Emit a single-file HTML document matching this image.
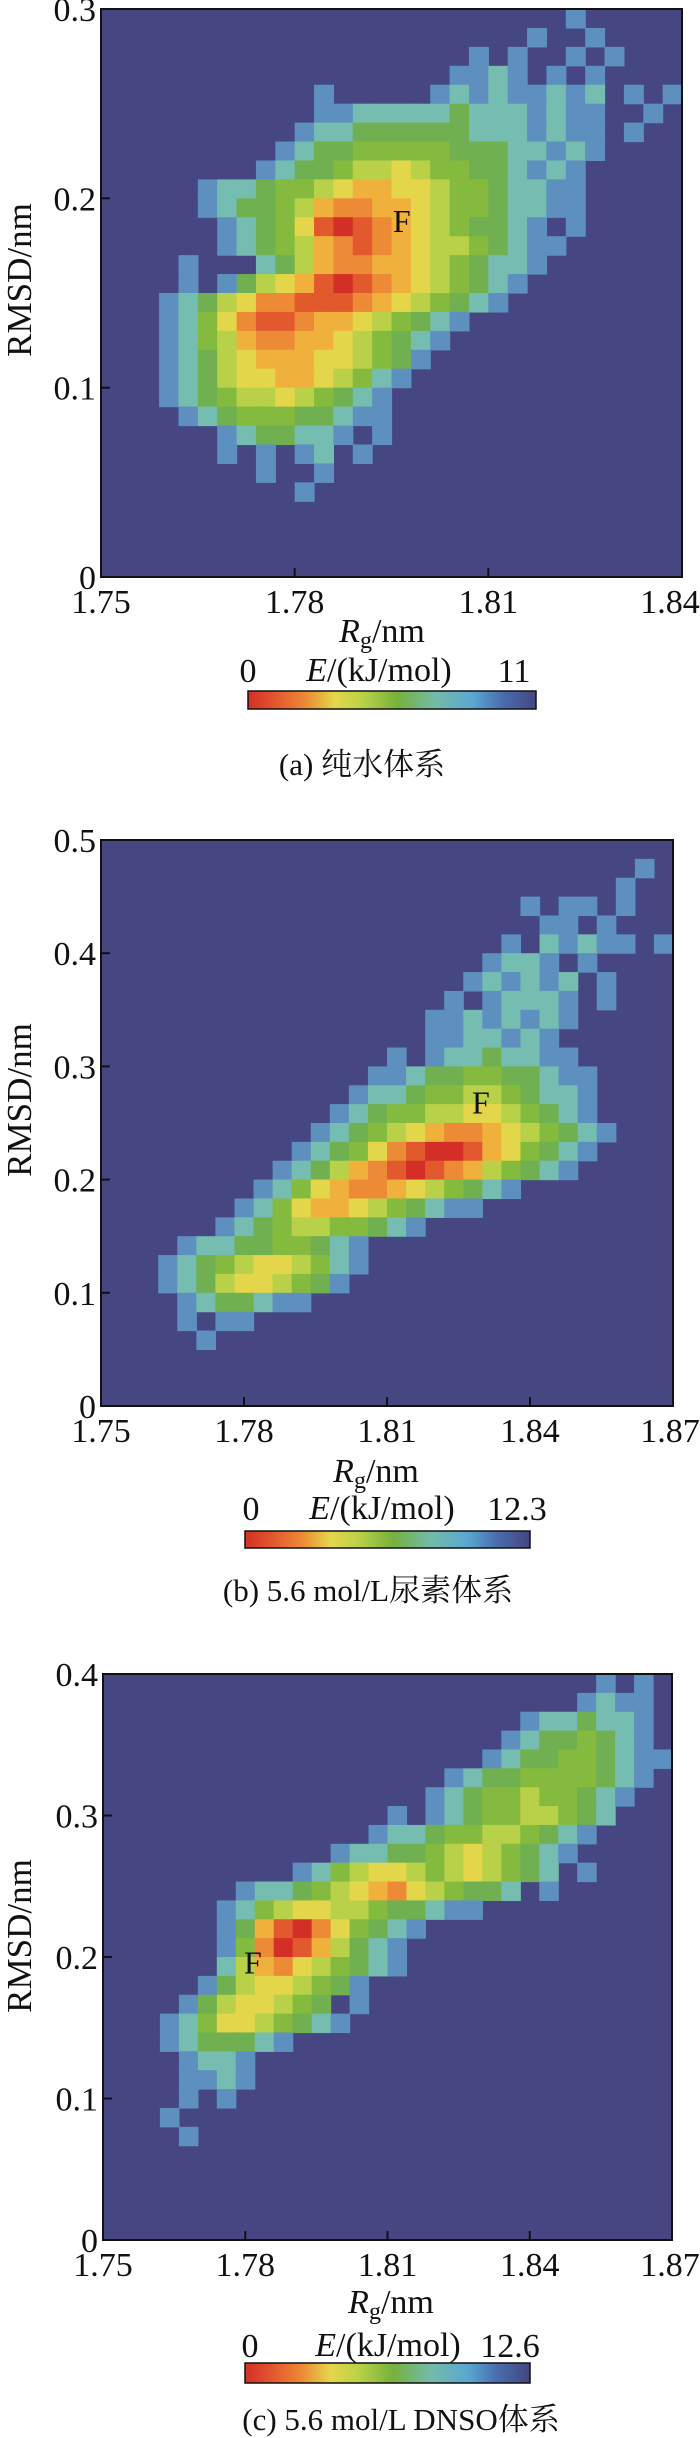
<!DOCTYPE html>
<html><head><meta charset="utf-8"><style>
html,body{margin:0;padding:0;background:#fff;}
svg{display:block;font-family:"Liberation Serif","Noto Serif CJK SC",serif;}
</style></head><body>
<svg id="fig" width="700" height="2438" viewBox="0 0 700 2438" xmlns="http://www.w3.org/2000/svg">
<defs>
<linearGradient id="cbar" x1="0" x2="1" y1="0" y2="0">
<stop offset="0" stop-color="#d42f27"/><stop offset="0.1" stop-color="#e3592e"/><stop offset="0.2" stop-color="#ec8a36"/>
<stop offset="0.3" stop-color="#e4d64a"/><stop offset="0.4" stop-color="#b9d148"/><stop offset="0.52" stop-color="#76b13d"/>
<stop offset="0.65" stop-color="#73bba8"/><stop offset="0.78" stop-color="#5aa8d2"/><stop offset="0.88" stop-color="#4a6fb0"/><stop offset="1" stop-color="#444580"/>
</linearGradient>
</defs>
</svg>
<script>
// ---- Panel (a) data ----
const aXTicks = [1.75, 1.78, 1.81, 1.84];
const aXTickLabels = ["1.75", "1.78", "1.81", "1.84"];
const aYTicks = [0, 0.1, 0.2, 0.3];
const aYTickLabels = ["0", "0.1", "0.2", "0.3"];
const aEnergyMax = ["11"];
const aGrid = [
"........................9.....",
"......................9..9....",
"...................9.9..9.9...",
"..................9989.9.9....",
"...........9.....989899898.9.9",
"...........998888878889899..9.",
"..........9887777778889899.9..",
".........98776666677788989....",
"........98776554566778989.....",
".....98876654334456678899.....",
".....98776532233456678899.....",
"......98764101234567789.9.....",
"......987653212345567899......",
"....9...875322334567889.......",
"....9.9754310123456789........",
"...987542211123456789.........",
"...9864211233456789...........",
"...986532233456789............",
"...98754333445679.............",
"...9875443345689..............",
"...987655456789...............",
"....98766677899...............",
"......9877889.9...............",
"......9.9.98.9................",
"........9..9..................",
"..........9...................",
"..............................",
"..............................",
"..............................",
".............................."
];
// ---- Panel (b) data ----
const bXTicks = [1.75, 1.78, 1.81, 1.84, 1.87];
const bXTickLabels = ["1.75", "1.78", "1.81", "1.84", "1.87"];
const bYTicks = [0, 0.1, 0.2, 0.3, 0.4, 0.5];
const bYTickLabels = ["0", "0.1", "0.2", "0.3", "0.4", "0.5"];
const bEnergyMax = ["12.3"];
const bGrid = [
"..............................",
"............................9.",
"...........................9..",
"......................9.99.9..",
".......................99.9...",
".....................9.89899.9",
"....................9889.9....",
"...................989898.9...",
"..................9.98889.9...",
".................99898989.....",
".................9988989......",
"...............9.98878899.....",
"..............998776677899....",
".............9887665567889....",
"............98766554456789....",
"...........9876543223456789...",
"..........9876421001346789....",
".........9875321012356789.....",
"........98643223456789........",
".......9864334567899..........",
"......98765566789.............",
"....9887766789................",
"...98765445689................",
"...9875445679.................",
"....9877899...................",
"....9.99......................",
".....9........................",
"..............................",
"..............................",
".............................."
];
// ---- Panel (c) data ----
const cXTicks = [1.75, 1.78, 1.81, 1.84, 1.87];
const cXTickLabels = ["1.75", "1.78", "1.81", "1.84", "1.87"];
const cYTicks = [0, 0.1, 0.2, 0.3, 0.4];
const cYTickLabels = ["0", "0.1", "0.2", "0.3", "0.4"];
const cEnergyMax = ["12.6"];
const cGrid = [
"..........................9.9.",
".........................9899.",
"......................9887889.",
".....................98776789.",
"....................9877667899",
"..................98776666789.",
".................98766566789..",
"...............9.9876655678...",
"..............988766556789....",
"............9887765456789.....",
"..........98654456545678.9....",
".......988765432456778.9......",
"......98654455677899..........",
"......97310246789.............",
"......9620135789..............",
"......8532456789..............",
".....975445679................",
"....97544567.9................",
"...9864456789.................",
"...9877789....................",
"....9889......................",
"....9989......................",
"....9.9.......................",
"...9..........................",
"....9.........................",
"..............................",
"..............................",
"..............................",
"..............................",
".............................."
];
// energy-level colours (0 = lowest energy)
const levelColors = ["#d42f27","#e3592e","#ec8a36","#f0b13c","#e4d64a","#b9d148","#84bb3f","#70b050","#74bdb0","#5d8fbf"];

const NS = "http://www.w3.org/2000/svg";
const svg = document.getElementById("fig");
function mk(tag, attrs, parent){
  const e = document.createElementNS(NS, tag);
  for (const k in attrs) e.setAttribute(k, attrs[k]);
  (parent||svg).appendChild(e); return e;
}
function drawPanel(p){
  const g = mk("g", {});
  
  
  const xs = v => p.L + (v - p.xmin) / (p.xmax - p.xmin) * (p.R - p.L);
  const ys = v => p.B - (v - p.ymin) / (p.ymax - p.ymin) * (p.B - p.T);
  const bg = mk("rect", {x:p.L, y:p.T, width:p.R-p.L, height:p.B-p.T, fill:"#454682"}, g);
  
  
  const rows = p.grid.length, cols = 30;
  const dx = (p.xmax - p.xmin) / cols, dy = (p.ymax - p.ymin) / rows;
  for (let r = 0; r < rows; r++) {
    const row = p.grid[r];
    for (let c = 0; c < cols; c++) {
      const ch = row[c];
      if (!ch || ch < '0' || ch > '9') continue;
      const x0 = xs(p.xmin + c*dx), x1 = xs(p.xmin + (c+1)*dx);
      const y0 = ys(p.ymax - r*dy), y1 = ys(p.ymax - (r+1)*dy);
      const cell = mk("rect", {x:x0, y:y0, width:x1-x0+0.6, height:y1-y0+0.6, fill:levelColors[+ch]}, g);
      
      
    }
  }
  const fr = mk("rect", {x:p.L, y:p.T, width:p.R-p.L, height:p.B-p.T, fill:"none", stroke:"#111", "stroke-width":2}, g);
  
  
  p.xTicks.forEach((v,i) => {
    const x = xs(v);
    if (i > 0 && i < p.xTicks.length-1) {
      const t = mk("line", {x1:x, x2:x, y1:p.B, y2:p.B-9, stroke:"#111", "stroke-width":2}, g);
      
      
    }
    const lx = Math.min(x, 670);
    const lab = mk("text", {x:lx, y:p.B+36, "font-size":34, "text-anchor":"middle", fill:"#111"}, g);
    lab.textContent = p.xTickLabels[i];
    
    
  });
  p.yTicks.forEach((v,i) => {
    const y = ys(v);
    if (i > 0 && i < p.yTicks.length-1) {
      const t = mk("line", {x1:p.L, x2:p.L+9, y1:y, y2:y, stroke:"#111", "stroke-width":2}, g);
      
      
    }
    const lab = mk("text", {x:p.L-5, y:y+12, "font-size":34, "text-anchor":"end", fill:"#111"}, g);
    lab.textContent = p.yTickLabels[i];
    
    
  });
  const yl = mk("text", {x:0, y:0, "font-size":35, "text-anchor":"middle", fill:"#111", transform:`translate(31,${p.yLabelY}) rotate(-90)`}, g);
  yl.textContent = "RMSD/nm";
  
  
  const xl = mk("text", {x:p.xLabelX, y:p.xLabelY+11, "font-size":34, "text-anchor":"middle", fill:"#111"}, g);
  xl.innerHTML = '<tspan font-style="italic">R</tspan><tspan font-size="24" dy="6">g</tspan><tspan dy="-6">/nm</tspan>';
  
  
  const fl = mk("text", {x:xs(p.fx), y:ys(p.fy)+11, "font-size":32, "text-anchor":"middle", fill:"#111"}, g);
  fl.textContent = "F";
  
  
  const cb = mk("rect", {x:p.cbL, y:p.cbT, width:p.cbR-p.cbL, height:p.cbB-p.cbT, fill:"url(#cbar)", stroke:"#111", "stroke-width":1.5}, g);
  
  
  const c0 = mk("text", {x:p.cb0X, y:p.cbLabY+12, "font-size":34, "text-anchor":"middle", fill:"#111"}, g);
  c0.textContent = "0";
  
  
  const c1 = mk("text", {x:p.cb1X, y:p.cbLabY+12, "font-size":34, "text-anchor":"middle", fill:"#111"}, g);
  c1.textContent = p.emax[0];
  
  
  const ct = mk("text", {x:p.cbTitleX, y:p.cbLabY+11, "font-size":34, "text-anchor":"middle", fill:"#111"}, g);
  ct.innerHTML = '<tspan font-style="italic">E</tspan>/(kJ/mol)';
  
  
  const cap = mk("text", {x:p.capX, y:p.capY+11, "font-size":31, "text-anchor":"middle", fill:"#111"}, g);
  cap.textContent = p.caption;
  
  
}
drawPanel({name:"panel-a-pure-water", L:101, R:682, T:9, B:577, xmin:1.75, xmax:1.84, ymin:0, ymax:0.3,
  xTicks:aXTicks, xTickLabels:aXTickLabels, yTicks:aYTicks, yTickLabels:aYTickLabels, grid:aGrid, emax:aEnergyMax,
  yLabelY:280, xLabelX:382, xLabelY:631, fx:1.7966, fy:0.188,
  cbL:248, cbR:536, cbT:691, cbB:709, cb0X:248, cb1X:514, cbTitleX:379, cbLabY:670,
  capX:362, capY:764, caption:"(a) 纯水体系"});
drawPanel({name:"panel-b-urea", L:101, R:673, T:840, B:1406, xmin:1.75, xmax:1.87, ymin:0, ymax:0.5,
  xTicks:bXTicks, xTickLabels:bXTickLabels, yTicks:bYTicks, yTickLabels:bYTickLabels, grid:bGrid, emax:bEnergyMax,
  yLabelY:1100, xLabelX:376, xLabelY:1471, fx:1.8297, fy:0.268,
  cbL:245, cbR:530, cbT:1531, cbB:1548, cb0X:251, cb1X:517, cbTitleX:382, cbLabY:1508,
  capX:368, capY:1590, caption:"(b) 5.6 mol/L尿素体系"});
drawPanel({name:"panel-c-dnso", L:103, R:672, T:1674, B:2240, xmin:1.75, xmax:1.87, ymin:0, ymax:0.4,
  xTicks:cXTicks, xTickLabels:cXTickLabels, yTicks:cYTicks, yTickLabels:cYTickLabels, grid:cGrid, emax:cEnergyMax,
  yLabelY:1936, xLabelX:391, xLabelY:2302, fx:1.7816, fy:0.196,
  cbL:245, cbR:530, cbT:2363, cbB:2383, cb0X:250, cb1X:510, cbTitleX:388, cbLabY:2345,
  capX:401, capY:2419, caption:"(c) 5.6 mol/L DNSO体系"});
</script>
</body></html>
